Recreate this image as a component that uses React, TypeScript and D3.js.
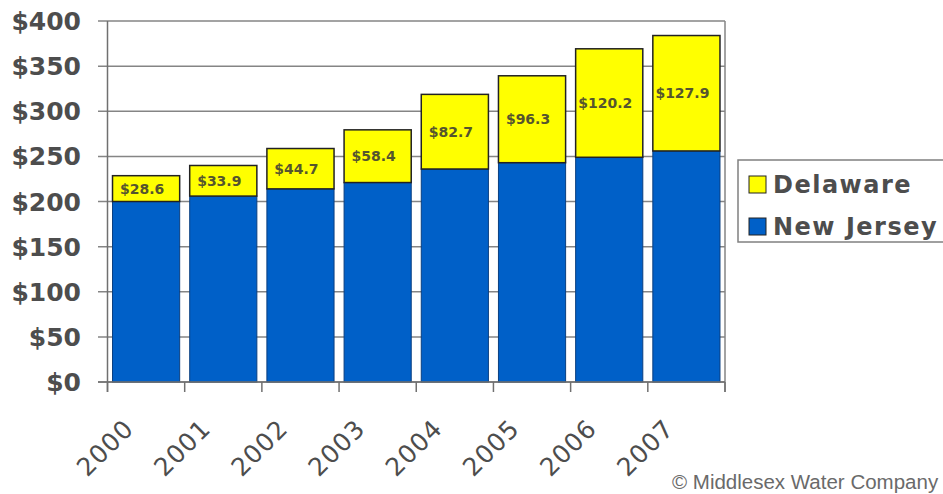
import * as d3 from "d3";

const years = ["2000", "2001", "2002", "2003", "2004", "2005", "2006", "2007"];
const newJersey = [200, 206, 214, 221, 236, 243, 249, 256];
const delaware = [28.6, 33.9, 44.7, 58.4, 82.7, 96.3, 120.2, 127.9];
const yTicks = [0, 50, 100, 150, 200, 250, 300, 350, 400];
const legendItems = [
  { name: "Delaware", color: "#ffff00" },
  { name: "New Jersey", color: "#0060c8" },
];

const W = 943;
const H = 494;
const plot = { left: 107.5, right: 725, top: 21, bottom: 382 };

export default function App() {
  const x = d3
    .scaleBand<string>()
    .domain(years)
    .range([plot.left, plot.right])
    .paddingInner(0.13)
    .paddingOuter(0.065);
  const y = d3.scaleLinear().domain([0, 400]).range([plot.bottom, plot.top]);
  const step = x.step();
  const bw = x.bandwidth();
  const edge = (d: string) => (x(d) as number) - (step * 0.13) / 2;
  const tickXs = [...years.map(edge), plot.right];

  return (
    <svg
      width={W}
      height={H}
      style={{ position: "absolute", left: 0, top: 0, background: "#fff" }}
    >
      {/* gridlines + y labels */}
      {yTicks.map((t) => (
        <g key={t}>
          <line x1={98} x2={plot.right} y1={y(t)} y2={y(t)} stroke="#858585" strokeWidth={1.5} />
          <text
            x={81}
            y={y(t)}
            dy="0.36em"
            textAnchor="end"
            fontFamily="DejaVu Sans"
            fontWeight="bold"
            fontSize={25}
            fill="#4d4d4d"
          >
            ${t}
          </text>
        </g>
      ))}
      {/* axes frame */}
      <line x1={plot.left} x2={plot.left} y1={plot.top} y2={plot.bottom + 10} stroke="#707070" strokeWidth={1.5} />
      <line x1={plot.right} x2={plot.right} y1={plot.top} y2={plot.bottom + 10} stroke="#858585" strokeWidth={1.5} />
      {tickXs.map((tx, i) => (
        <line key={i} x1={tx} x2={tx} y1={plot.bottom} y2={plot.bottom + 10} stroke="#707070" strokeWidth={1.5} />
      ))}

      {/* bars */}
      {years.map((yr, i) => {
        const bx = x(yr) as number;
        const nj = newJersey[i];
        const de = delaware[i];
        const yNj = y(nj);
        const yTot = y(nj + de);
        return (
          <g key={yr}>
            <rect x={bx} y={yNj} width={bw} height={plot.bottom - yNj} fill="#0060c8" stroke="#0a3f80" strokeWidth={1} />
            <rect x={bx} y={yTot} width={bw} height={yNj - yTot} fill="#ffff00" stroke="#222" strokeWidth={1.5} />
            <text
              x={bx + bw / 2 - 4}
              y={(yTot + yNj) / 2}
              dy="0.36em"
              textAnchor="middle"
              fontFamily="DejaVu Sans"
              fontWeight="bold"
              fontSize={14}
              fill="#55552e"
            >
              ${de.toFixed(1)}
            </text>
          </g>
        );
      })}
      <line x1={98} x2={plot.right} y1={plot.bottom} y2={plot.bottom} stroke="#707070" strokeWidth={1.5} />

      {/* x labels */}
      {years.map((yr) => {
        const cx = (x(yr) as number) + bw / 2 - 11;
        return (
          <text
            key={yr}
            transform={`translate(${cx},430) rotate(-45)`}
            textAnchor="end"
            fontFamily="DejaVu Sans"
            fontSize={25}
            letterSpacing={1}
            fill="#4d4d4d"
          >
            {yr}
          </text>
        );
      })}

      {/* legend */}
      <rect x={738} y={160} width={220} height={82} fill="#fff" stroke="#808080" strokeWidth={1.5} />
      {legendItems.map((it, i) => (
        <g key={it.name} transform={`translate(749,${176 + i * 42})`}>
          <rect x={0} y={0} width={17} height={17} fill={it.color} stroke="#222" strokeWidth={1} />
          <text
            x={24}
            y={8.5}
            dy="0.36em"
            fontFamily="DejaVu Sans"
            fontWeight="bold"
            fontSize={24}
            letterSpacing={1.5}
            fill="#4d4d4d"
          >
            {it.name}
          </text>
        </g>
      ))}

      <text x={672} y={489} fontFamily="Liberation Sans" fontSize={20.5} fill="#6a6a6a">
        © Middlesex Water Company
      </text>
    </svg>
  );
}
